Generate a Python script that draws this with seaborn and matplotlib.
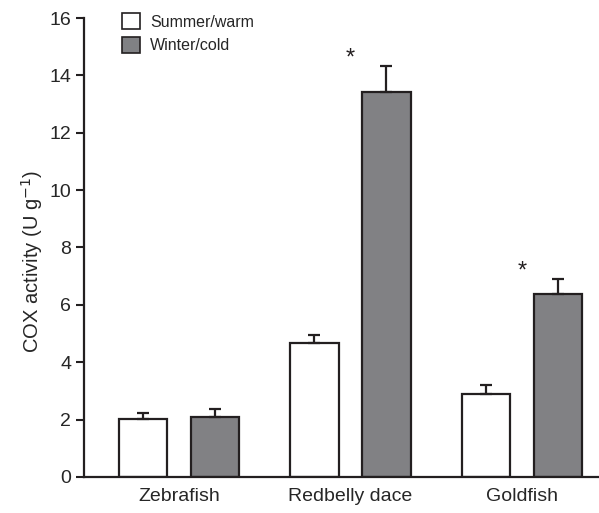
import pandas as pd
import matplotlib.pyplot as plt
import seaborn as sns
from matplotlib.patches import Patch

species = ['Zebrafish', 'Redbelly dace', 'Goldfish']
seasons = ['Summer/warm', 'Winter/cold']
summer_mean = [2.03, 4.66, 2.89]
summer_err = [0.19, 0.30, 0.32]
winter_mean = [2.09, 13.41, 6.37]
winter_err = [0.27, 0.92, 0.53]
signif = [False, True, True]

df = pd.DataFrame({
    'species': species * 2,
    'season': [seasons[0]] * 3 + [seasons[1]] * 3,
    'cox': summer_mean + winter_mean,
    'err': summer_err + winter_err,
})

sns.set_style('ticks')
plt.rcParams['font.family'] = ['Liberation Sans', 'DejaVu Sans']
ink = '#231f20'
grey = '#808184'

fig = plt.figure(figsize=(5.99, 5.13), dpi=100)
ax = fig.add_axes([0.14, 0.0702, 0.86, 0.8947])

sns.barplot(df, x='species', y='cox', hue='season', order=species, hue_order=seasons,
            palette={seasons[0]: 'white', seasons[1]: grey}, edgecolor=ink, linewidth=1.6,
            width=0.84, gap=0.33, errorbar=None, legend=False, ax=ax)

# error bars only upward, placed on the bars seaborn drew
for cont, s in zip(ax.containers, seasons):
    sub = df[df.season == s].set_index('species').loc[species]
    xs = [b.get_x() + b.get_width() / 2 for b in cont]
    ys = [b.get_height() for b in cont]
    ax.errorbar(xs, ys, yerr=[[0] * len(xs), sub['err'].tolist()], fmt='none',
                ecolor=ink, elinewidth=1.6, capsize=4, capthick=1.6, zorder=1)

# asterisks above the cold bars
for i, sp in enumerate(species):
    if signif[i]:
        top = winter_mean[i] + winter_err[i]
        ax.text(i, top + 0.25, '*', ha='center', va='center', fontsize=17, color=ink)

ax.set_ylim(0, 16)
ax.set_yticks(range(0, 17, 2))
ax.set_xlim(-0.554, 2.449)
ax.set_xlabel('')
ax.set_ylabel('COX activity (U g$^{-1}$)', fontsize=14.5)
ax.yaxis.set_label_coords(-0.075, 0.47)
ax.tick_params(axis='y', labelsize=14, width=1.5, length=6, color=ink, pad=3)
ax.tick_params(axis='x', labelsize=14, length=0, pad=8)
sns.despine(ax=ax)
for sp in ['left', 'bottom']:
    ax.spines[sp].set_linewidth(1.6)
    ax.spines[sp].set_color(ink)

handles = [Patch(facecolor='white', edgecolor=ink, linewidth=1.2),
           Patch(facecolor=grey, edgecolor=ink, linewidth=1.2)]
ax.legend(handles, seasons, loc='upper left', bbox_to_anchor=(0.074, 1.01), frameon=False,
          fontsize=11.5, handlelength=1.15, handleheight=1.15, handletextpad=0.6,
          labelspacing=0.45, borderpad=0, borderaxespad=0)

fig.savefig('out.png', dpi=100)
